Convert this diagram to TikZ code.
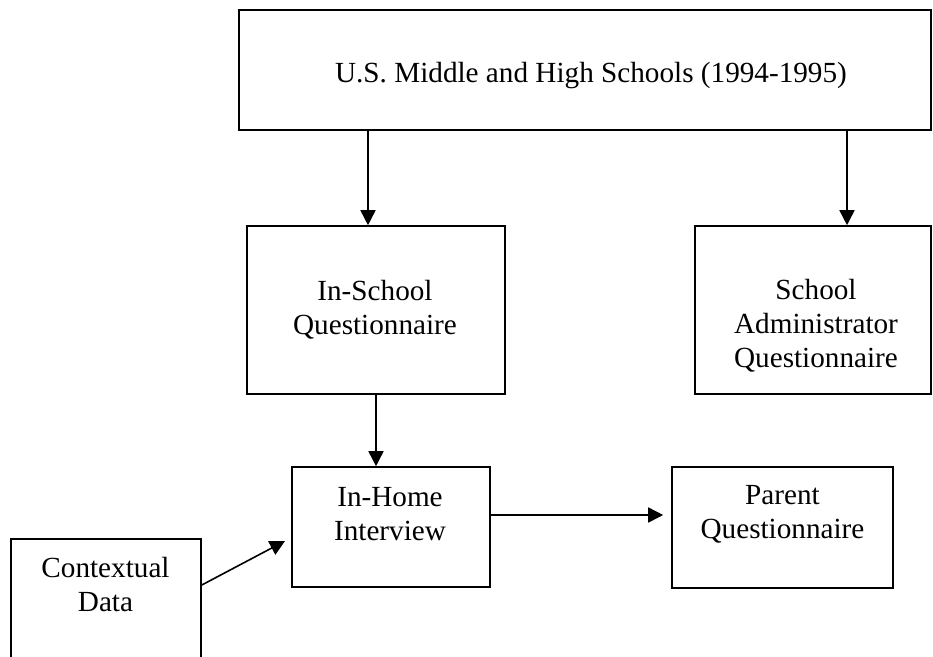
\documentclass[tikz,border=0pt]{standalone}
\usepackage{fontspec}
\setmainfont{Liberation Serif}
\usetikzlibrary{arrows.meta}
\begin{document}
\begin{tikzpicture}[x=1pt,y=-1pt,
  box/.style={draw, line width=1.6pt, inner sep=0pt},
  lbl/.style={align=center, font=\fontsize{29.2}{34}\selectfont, inner sep=0pt},
  arr/.style={-{Triangle[length=15pt,width=15pt]}, line width=1.6pt}]
\useasboundingbox (0,0) rectangle (933,656);
\clip (0,0) rectangle (933,656);
% boxes
\node[box, minimum width=692pt, minimum height=120pt] (top) at (585,70) {};
\node[box, minimum width=258pt, minimum height=168pt] (inschool) at (376,310) {};
\node[box, minimum width=236pt, minimum height=168pt] (admin) at (813,310) {};
\node[box, minimum width=198pt, minimum height=120pt] (inhome) at (391,527) {};
\node[box, minimum width=221pt, minimum height=121pt] (parent) at (782.5,527.5) {};
\node[box, minimum width=190pt, minimum height=150pt] (context) at (106,614) {};
% texts
\node[lbl] (topt) at (591,76) {U.S. Middle and High Schools (1994-1995)};
\node[lbl] (inschoolt) at (375,309.5) {In-School\\Questionnaire};
\node[lbl] (admint) at (816,326) {School\\Administrator\\Questionnaire};
\node[lbl] (inhomet) at (390,514) {In-Home\\Interview};
\node[lbl] (parentt) at (782.5,514.5) {Parent\\Questionnaire};
\node[lbl] (contextt) at (105.5,584.5) {Contextual\\Data};
% connectors
\coordinate (a1) at (368,0);
\coordinate (a2) at (847,0);
\coordinate (a3) at (376,0);
\coordinate (h) at (0,515);
\coordinate (cs) at (0,585);
\coordinate (ct) at (285,541);
\draw[arr] (top.south -| a1) -- (inschool.north -| a1);
\draw[arr] (top.south -| a2) -- (admin.north -| a2);
\draw[arr] (inschool.south -| a3) -- (inhome.north -| a3);
\draw[arr, shorten >=8pt] (inhome.east |- h) -- (parent.west |- h);
\draw[arr] (context.east |- cs) -- (ct);
\end{tikzpicture}
\end{document}
